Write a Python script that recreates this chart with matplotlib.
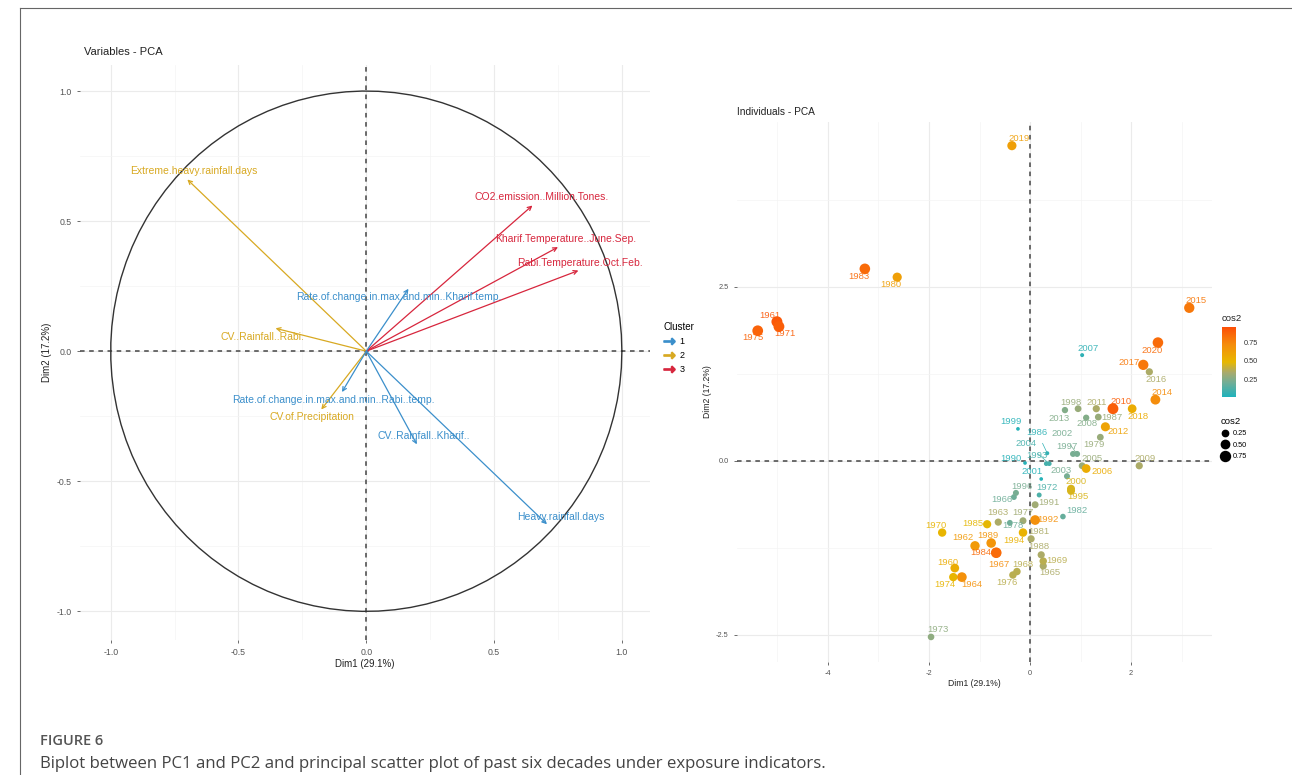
import matplotlib.pyplot as plt
import numpy as np
from matplotlib.colors import LinearSegmentedColormap, Normalize
from matplotlib.lines import Line2D

plt.rcParams['font.family'] = ['Liberation Sans', 'DejaVu Sans']
plt.rcParams['axes.unicode_minus'] = False

# ---- variables (correlation circle) ----
var_names = ['Extreme.heavy.rainfall.days', 'CV..Rainfall..Rabi.', 'CV.of.Precipitation',
             'CO2.emission..Million.Tones.', 'Kharif.Temperature..June.Sep.',
             'Rabi.Temperature.Oct.Feb.', 'Rate.of.change.in.max.and.min..Kharif.temp.',
             'Rate.of.change.in.max.and.min..Rabi..temp.', 'CV..Rainfall..Kharif..',
             'Heavy.rainfall.days']
var_dim1 = [-0.70, -0.355, -0.176, 0.65, 0.75, 0.83, 0.165, -0.095, 0.198, 0.707]
var_dim2 = [0.66, 0.088, -0.224, 0.56, 0.40, 0.31, 0.24, -0.157, -0.358, -0.665]
var_cluster = ['2', '2', '2', '3', '3', '3', '1', '1', '1', '1']

# ---- individuals (years) ----
years = list(range(1960, 2021))
ind_dim1 = [-1.49, -5.01, -1.09, -0.63, -1.35, 0.26, -0.32, -0.67, -0.26, 0.26,
            -1.74, -4.97, 0.18, -1.96, -1.52, -5.39, -0.34, -0.14, -0.40, 1.39,
            -2.63, 0.02, 0.65, -3.27, -0.67, -0.85, 0.34, 1.35, 0.22, -0.77,
            -0.10, 0.10, 0.10, 0.32, -0.14, 0.81, -0.28, 0.85, 0.95, -0.24,
            0.81, 0.22, 0.93, 0.73, 0.38, 1.03, 1.11, 1.03, 1.11, 2.16,
            1.64, 1.31, 1.49, 0.69, 2.48, 3.15, 2.36, 2.24, 2.02, -0.36, 2.53]
ind_dim2 = [-1.54, 2.00, -1.22, -0.88, -1.67, -1.51, -0.52, -1.32, -1.59, -1.44,
            -1.03, 1.93, -0.49, -2.53, -1.67, 1.87, -1.64, -0.86, -0.89, 0.34,
            2.64, -1.12, -0.80, 2.76, -1.32, -0.91, 0.11, 0.63, -1.35, -1.18,
            -0.03, -0.63, -0.85, -0.04, -1.03, -0.43, -0.46, 0.10, 0.75, 0.46,
            -0.40, -0.26, 0.10, -0.22, -0.04, -0.07, -0.11, 1.52, 0.62, -0.07,
            0.75, 0.75, 0.49, 0.73, 0.88, 2.20, 1.28, 1.38, 0.75, 4.53, 1.70]
ind_cos2 = [0.55, 0.92, 0.65, 0.35, 0.70, 0.35, 0.20, 0.72, 0.38, 0.38,
            0.50, 0.90, 0.12, 0.28, 0.50, 0.88, 0.38, 0.32, 0.20, 0.30,
            0.62, 0.35, 0.18, 0.85, 0.85, 0.48, 0.05, 0.30, 0.35, 0.68,
            0.03, 0.32, 0.70, 0.10, 0.52, 0.45, 0.22, 0.22, 0.30, 0.03,
            0.45, 0.03, 0.22, 0.22, 0.10, 0.30, 0.55, 0.05, 0.25, 0.35,
            0.90, 0.35, 0.60, 0.25, 0.72, 0.80, 0.35, 0.80, 0.55, 0.62, 0.85]

# label placement (pixel offsets, like ggrepel)
lab_off = {1960: (-7, 6), 1961: (-7, 6), 1962: (-12, 8), 1963: (0, 10), 1964: (10, -7),
           1965: (7, -7), 1966: (-12, -2), 1967: (3, -12), 1968: (6, 7), 1969: (14, 1),
           1970: (-6, 7), 1971: (6, -7), 1972: (8, 7), 1973: (7, 7), 1974: (-8, -7),
           1975: (-5, -7), 1976: (-6, -7), 1977: (0, 8), 1978: (3, -3), 1979: (-6, -7),
           1980: (-6, -7), 1981: (8, 7), 1982: (14, 6), 1983: (-6, -8), 1984: (-15, 0),
           1985: (-14, 1), 1986: (-10, 21), 1987: (14, 0), 1988: (-2, 8), 1989: (-3, 8),
           1990: (-14, 4), 1991: (14, 2), 1992: (13, 1), 1993: (-9, 8), 1994: (-9, -8),
           1995: (7, -6), 1996: (6, 6), 1997: (-6, 7), 1998: (-7, 6), 1999: (-7, 7),
           2000: (5, 7), 2001: (-9, 7), 2002: (-15, 20), 2003: (-6, 6), 2004: (-23, 20),
           2005: (10, 7), 2006: (16, -3), 2007: (6, 7), 2008: (1, -6), 2009: (6, 7),
           2010: (8, 7), 2011: (0, 6), 2012: (13, -5), 2013: (-6, -8), 2014: (7, 7),
           2015: (7, 7), 2016: (7, -8), 2017: (-14, 2), 2018: (6, -8), 2019: (7, 7),
           2020: (-6, -8)}
var_off = [(6, 8), (-13, -9), (-9, -8), (9, 8), (8, 8), (2, 8), (-10, -8), (-9, -8), (7, 8), (14, 7)]

cluster_colors = {'1': '#3B8FCB', '2': '#D8A922', '3': '#D7263D'}
cmap = LinearSegmentedColormap.from_list(
    'cos2', [(0, '#1FB2BC'), (0.2, '#6FAE98'), (0.35, '#A9AA6C'), (0.5, '#E7B800'),
             (0.75, '#F58D0C'), (1, '#FC4E07')])
norm = Normalize(vmin=0.01, vmax=0.96)

W, H = 1292, 775
fig = plt.figure(figsize=(W / 100, H / 100), dpi=100)


def style_axes(ax, fs):
    for s in ax.spines.values():
        s.set_visible(False)
    ax.grid(True, which='major', color='#ebebeb', lw=0.8)
    ax.grid(True, which='minor', color='#f4f4f4', lw=0.5)
    ax.tick_params(which='major', labelsize=fs, colors='#555555', length=2.5, width=0.6)
    ax.tick_params(which='minor', length=0)
    ax.set_axisbelow(True)


# ---------------- left: variables ----------------
ax1 = fig.add_axes([80 / W, 1 - 640 / H, 570 / W, 575 / H])
style_axes(ax1, 6.3)
ax1.set_xlim(-1.12, 1.11)
ax1.set_ylim(-1.11, 1.10)
ax1.set_xticks([-1.0, -0.5, 0.0, 0.5, 1.0])
ax1.set_yticks([-1.0, -0.5, 0.0, 0.5, 1.0])
ax1.set_xticks([-0.75, -0.25, 0.25, 0.75], minor=True)
ax1.set_yticks([-0.75, -0.25, 0.25, 0.75], minor=True)
ax1.axhline(0, color='#444444', ls=(0, (3, 3)), lw=1.1)
ax1.axvline(0, color='#444444', ls=(0, (3, 3)), lw=1.1)

t = np.linspace(0, 2 * np.pi, 100)
ax1.plot(np.cos(t), np.sin(t), color='#333333', lw=1.0)

for name, x, y, cl, off in zip(var_names, var_dim1, var_dim2, var_cluster, var_off):
    c = cluster_colors[cl]
    ax1.annotate('', xy=(x, y), xytext=(0, 0),
                 arrowprops=dict(arrowstyle='->', color=c, lw=0.9, shrinkA=0, shrinkB=0,
                                 mutation_scale=7))
    ax1.annotate(name, xy=(x, y), xytext=off, textcoords='offset pixels',
                 ha='center', va='center', color=c, fontsize=7.5)

ax1.set_xlabel('Dim1 (29.1%)', fontsize=7, labelpad=1, color='#222222')
ax1.set_ylabel('Dim2 (17.2%)', fontsize=7, labelpad=3, color='#222222')
fig.text(84 / W, 1 - 52 / H, 'Variables - PCA', fontsize=8, va='center', color='#222222')

handles = [Line2D([0], [0], color=cluster_colors[k], lw=0, marker=r'$\rightarrow$',
                  markersize=8) for k in ['1', '2', '3']]
leg1 = fig.legend(handles, ['1', '2', '3'], title='Cluster', loc='upper left',
                  bbox_to_anchor=(655 / W, 1 - 314 / H), frameon=False, fontsize=6.5,
                  title_fontsize=7, handlelength=1.3, handletextpad=0.5, labelspacing=0.55,
                  alignment='left')

# ---------------- right: individuals ----------------
ax2 = fig.add_axes([737 / W, 1 - 662 / H, 475 / W, 540 / H])
style_axes(ax2, 5.3)
ax2.set_xlim(-5.80, 3.60)
ax2.set_ylim(-2.89, 4.87)
ax2.set_xticks([-4, -2, 0, 2])
ax2.set_yticks([-2.5, 0.0, 2.5])
ax2.set_xticks([-5, -3, -1, 1, 3], minor=True)
ax2.set_yticks([-1.25, 1.25, 3.75], minor=True)
ax2.axhline(0, color='#444444', ls=(0, (3, 3)), lw=1.1)
ax2.axvline(0, color='#444444', ls=(0, (3, 3)), lw=1.1)


def pt_size(v):
    return 0.5184 * (10 + 120 * np.asarray(v))


ax2.scatter(ind_dim1, ind_dim2, s=pt_size(ind_cos2), c=ind_cos2, cmap=cmap, norm=norm,
            linewidths=0, zorder=3)
for yr, x, y, v in zip(years, ind_dim1, ind_dim2, ind_cos2):
    dx, dy = lab_off[yr]
    col = cmap(norm(v))
    ap = None
    if abs(dx) + abs(dy) > 25:
        ap = dict(arrowstyle='-', color=col, lw=0.5, shrinkA=3, shrinkB=1)
    ax2.annotate(str(yr), xy=(x, y), xytext=(dx, dy), textcoords='offset pixels',
                 ha='center', va='center', fontsize=6.8, color=col, alpha=0.9,
                 arrowprops=ap, zorder=4)

ax2.set_xlabel('Dim1 (29.1%)', fontsize=6.2, labelpad=1, color='#222222')
ax2.set_ylabel('Dim2 (17.2%)', fontsize=6.2, labelpad=3, color='#222222')
fig.text(737 / W, 1 - 112 / H, 'Individuals - PCA', fontsize=7.3, va='center', color='#222222')

# colour legend
cax = fig.add_axes([1222 / W, 1 - 397 / H, 14 / W, 70 / H])
cb = fig.colorbar(plt.cm.ScalarMappable(norm=norm, cmap=cmap), cax=cax)
cb.outline.set_visible(False)
cb.set_ticks([0.25, 0.5, 0.75])
cb.ax.tick_params(labelsize=5.3, length=2, color='white', colors='#333333')
cb.ax.tick_params(color='white')
fig.text(1222 / W, 1 - 318 / H, 'cos2', fontsize=6.8, va='center', color='#222222')

# size legend
size_vals = [0.25, 0.50, 0.75]
shand = [Line2D([0], [0], lw=0, marker='o', color='black',
                markersize=np.sqrt(pt_size(v))) for v in size_vals]
fig.legend(shand, ['0.25', '0.50', '0.75'], title='cos2', loc='upper left',
           bbox_to_anchor=(1214 / W, 1 - 410 / H), frameon=False, fontsize=5.3,
           title_fontsize=6.8, handlelength=1.2, handletextpad=0.5, labelspacing=0.6,
           alignment='left')

# ---------------- figure frame and caption ----------------
fig.add_artist(Line2D([20 / W, 20 / W], [0, 1 - 8 / H], transform=fig.transFigure,
                      color='#666666', lw=0.8))
fig.add_artist(Line2D([20 / W, 1], [1 - 8 / H, 1 - 8 / H], transform=fig.transFigure,
                      color='#666666', lw=0.8))
fig.text(40 / W, 1 - 741 / H, 'FIGURE 6', fontsize=10.5, va='center', color='#555555',
         family=['Open Sans', 'DejaVu Sans'], fontweight='semibold')
fig.text(40 / W, 1 - 764 / H,
         'Biplot between PC1 and PC2 and principal scatter plot of past six decades under exposure indicators.',
         fontsize=12.1, va='center', color='#444444', family=['Open Sans', 'DejaVu Sans'])

fig.savefig('out.png', dpi=100)
